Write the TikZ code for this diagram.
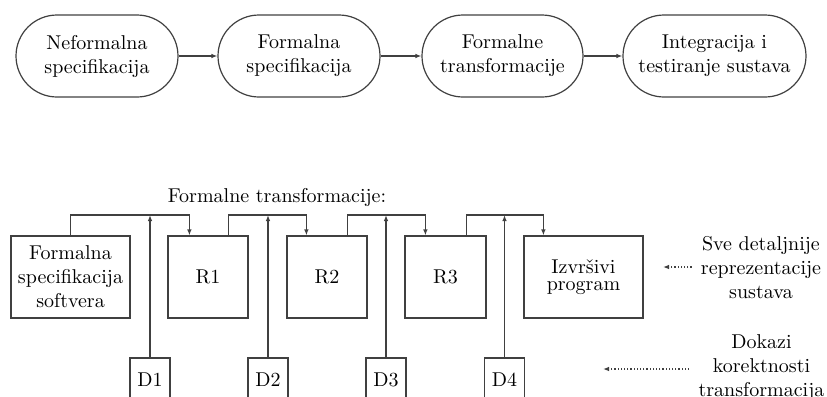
\documentclass[tikz,border=0pt]{standalone}
\usetikzlibrary{arrows.meta,calc}
\begin{document}
\begin{tikzpicture}[x=0.5pt,y=-0.5pt,
  every node/.style={font=\normalsize},
  stad/.style={draw=black!75,line width=0.6pt,rounded corners=20.5pt,minimum height=41pt,align=center,inner sep=0pt},
  rbox/.style={draw=black!75,line width=0.6pt,minimum height=41pt,align=center,inner sep=0pt},
  dbox/.style={draw=black!75,line width=0.6pt,minimum width=20pt,minimum height=22pt,inner sep=0pt},
  arr/.style={draw=black!75,line width=0.6pt,-{Latex[length=3pt,width=2.3pt]}},
  dotarr/.style={draw=black!75,line width=0.6pt,densely dotted,-{Latex[length=3pt,width=2.3pt]}},
  side/.style={align=center,inner sep=4.5pt}]
\useasboundingbox (0,0) rectangle (827,397);
\clip (0,0) rectangle (827,397);
% top row
\node[stad,minimum width=81pt] (A) at (97,56) {Neformalna\\specifikacija};
\node[stad,minimum width=81pt] (B) at (299,56) {Formalna\\specifikacija};
\node[stad,minimum width=80.5pt] (C) at (502.5,56) {Formalne\\transformacije};
\node[stad,minimum width=91.5pt] (D) at (714.5,56) {Integracija i\\testiranje sustava};
\draw[arr] (A) -- (B);
\draw[arr] (B) -- (C);
\draw[arr] (C) -- (D);
% bottom
\node (T) at (277,197) {Formalne transformacije:};
\coordinate (top) at (0,215);
\node[rbox,minimum width=59.5pt] (FS) at (70.5,277) {Formalna\\specifikacija\\softvera};
\node[rbox,minimum width=40pt] (R1) at (208,277) {R1};
\node[rbox,minimum width=40pt] (R2) at (327,277) {R2};
\node[rbox,minimum width=40.5pt] (R3) at (445.5,277) {R3};
\node[rbox,minimum width=59.5pt] (IP) at (583.5,277) {Izvršivi\\[-3.5pt]program};
\node[dbox] (D1) at (150,380) {D1};
\node[dbox] (D2) at (268,380) {D2};
\node[dbox] (D3) at (386,380) {D3};
\node[dbox] (D4) at (504.5,380) {D4};
\coordinate (s1) at ($(R1.north east)+(-20,0)$);
\coordinate (s2) at ($(R2.north east)+(-20,0)$);
\coordinate (s3) at ($(R3.north east)+(-20,0)$);
\coordinate (t1) at ($(R1.north west)+(22,0)$);
\coordinate (t2) at ($(R2.north west)+(20,0)$);
\coordinate (t3) at ($(R3.north west)+(21,0)$);
\coordinate (t4) at ($(IP.north west)+(20,0)$);
\draw[arr] (FS.north) -- (FS.north |- top) -| (t1);
\draw[arr] (s1) -- (s1 |- top) -| (t2);
\draw[arr] (s2) -- (s2 |- top) -| (t3);
\draw[arr] (s3) -- (s3 |- top) -| (t4);
\draw[arr] (D1.north) -- (D1.north |- top);
\draw[arr] (D2.north) -- (D2.north |- top);
\draw[arr] (D3.north) -- (D3.north |- top);
\draw[arr] (D4.north) -- (D4.north |- top);
% side labels
\node[side] (L1) at (761,268) {Sve detaljnije\\reprezentacije\\sustava};
\node[side] (L2) at (761.5,368) {Dokazi\\korektnosti\\transformacija};
\coordinate (e1) at (663,267);
\coordinate (e2) at (603,369);
\draw[dotarr] (L1.west |- e1) -- (e1);
\draw[dotarr] (L2.west |- e2) -- (e2);
\end{tikzpicture}
\end{document}
